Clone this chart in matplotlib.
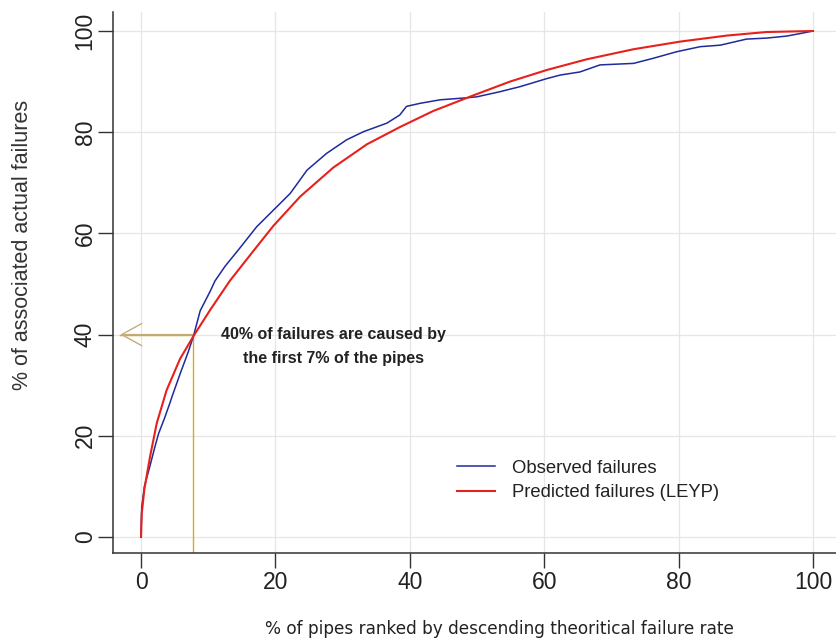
import matplotlib
matplotlib.use("Agg")
import matplotlib.pyplot as plt

# values
obs_x = [0, 0.1, 0.5, 1.3, 2.0, 2.6, 3.5, 4.3, 4.6, 5.8, 7.0, 7.8, 8.8, 10.3, 11.0,
         12.5, 14.7, 17.2, 19.7, 22.2, 24.7, 27.6, 30.6, 33.1, 36.6, 38.5, 39.5,
         41.5, 44.5, 48.5, 50.0, 53.4, 56.4, 60.4, 62.4, 65.3, 68.3, 73.3, 76.2,
         79.7, 83.2, 86.2, 90.1, 93.1, 96.1, 98.1, 100]
obs_y = [0.8, 5.9, 10.0, 13.9, 17.5, 20.4, 23.5, 26.5, 27.7, 32.2, 36.5, 39.7, 44.7,
         48.6, 50.6, 53.5, 57.1, 61.3, 64.6, 67.9, 72.5, 75.8, 78.5, 80.1, 81.8,
         83.4, 85.1, 85.7, 86.4, 86.8, 87.0, 88.0, 89.0, 90.6, 91.3, 91.9, 93.3,
         93.6, 94.6, 95.9, 96.9, 97.2, 98.4, 98.6, 99.0, 99.5, 100]

pred_x = [0, 0.1, 0.5, 1.34, 2.34, 3.8, 5.8, 7.8, 10.3, 13.2, 16.7, 19.7, 23.7,
          28.6, 33.6, 38.5, 43.5, 49.5, 54.9, 60.4, 66.3, 73.3, 80.2, 87.2, 93.1, 100]
pred_y = [0, 4.6, 9.5, 15.9, 22.5, 29.0, 35.2, 39.7, 44.9, 50.6, 56.5, 61.5, 67.3,
          73.0, 77.6, 81.0, 84.2, 87.3, 90.0, 92.3, 94.4, 96.4, 97.9, 99.1, 99.8, 100]

ticks = [0, 20, 40, 60, 80, 100]
cut_x = 7.7
cut_y = 40

fig = plt.figure(figsize=(8.36, 6.43), dpi=100)
ax = fig.add_axes([0.1352, 0.14, 0.8648, 0.8413])

ax.plot(obs_x, obs_y, color="#1f2a9c", lw=1.1, label="Observed failures", zorder=3)
ax.plot(pred_x, pred_y, color="#e8201c", lw=1.5, label="Predicted failures (LEYP)", zorder=3)

# gold guide lines + open arrow
gold = "#d9a72a"
ax.plot([cut_x, cut_x], [-3.16, cut_y], color=gold, lw=1.0, zorder=2)
ax.plot([-3.1, cut_x], [cut_y, cut_y], color=gold, lw=1.0, zorder=2)
ax.annotate("", xy=(-3.1, cut_y), xytext=(cut_x, cut_y),
            arrowprops=dict(arrowstyle="->,head_length=1.45,head_width=0.8",
                            color="#c4ad7a", lw=1.0, mutation_scale=10,
                            shrinkA=0, shrinkB=0), zorder=2)

ax.text(28.6, 40, "40% of failures are caused by", ha="center", va="center",
        fontsize=11.5, fontweight="bold", family="Liberation Sans", color="#222222")
ax.text(28.6, 35.2, "the first 7% of the pipes", ha="center", va="center",
        fontsize=11.5, fontweight="bold", family="Liberation Sans", color="#222222")

ax.set_xlim(-4.17, 103.42)
ax.set_ylim(-3.16, 103.75)
ax.set_xticks(ticks)
ax.set_yticks(ticks)
ax.grid(True, color="#e6e6e6", lw=0.9)
ax.set_axisbelow(True)

for s in ["top", "right"]:
    ax.spines[s].set_visible(False)
for s in ["left", "bottom"]:
    ax.spines[s].set_color("#333333")
    ax.spines[s].set_linewidth(1.1)

ax.tick_params(axis="both", length=10.8, width=1.0, color="#333333", pad=2,
               labelsize=16.5, labelcolor="#222222")
ax.tick_params(axis="y", pad=1)
for lab in ax.get_xticklabels() + ax.get_yticklabels():
    lab.set_family("Liberation Sans")
for lab in ax.get_yticklabels():
    lab.set_rotation(90)
    lab.set_va("center")

ax.set_xlabel("% of pipes ranked by descending theoritical failure rate",
              fontsize=12.2, family="DejaVu Sans", color="#222222")
ax.xaxis.set_label_coords(0.535, -0.124)
ax.set_ylabel("% of associated actual failures", fontsize=15.5,
              family="Liberation Sans", color="#333333")
ax.yaxis.set_label_coords(-0.1107, 0.569)

leg = ax.legend(loc="upper left", bbox_to_anchor=(0.476, 0.1725), frameon=False,
                prop={"family": "Liberation Sans", "size": 13.3},
                handlelength=2.07, handletextpad=0.92, labelspacing=0.42,
                borderpad=0, borderaxespad=0)
for t in leg.get_texts():
    t.set_color("#222222")

fig.savefig("out.png", dpi=100)
